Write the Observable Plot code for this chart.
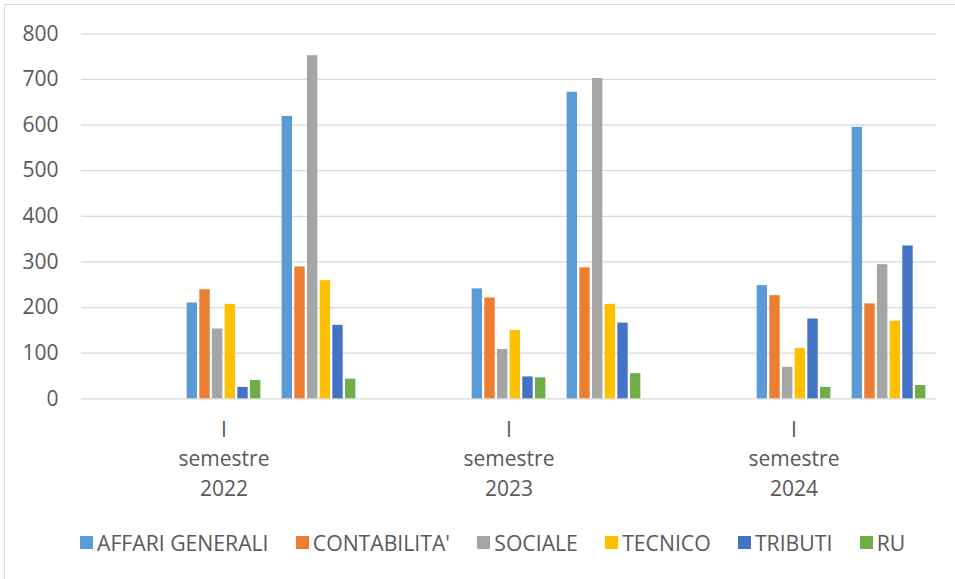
<!DOCTYPE html>
<html>
<head>
<meta charset="utf-8">
<script src="https://cdn.jsdelivr.net/npm/d3@7"></script>
<script src="https://cdn.jsdelivr.net/npm/@observablehq/plot@0.6"></script>
<style>
  html, body { margin: 0; padding: 0; background: #fff; overflow: hidden; }
  #wrap { position: relative; width: 955px; height: 579px; font-family: "Open Sans", sans-serif; }
  #border { position: absolute; left: 4px; top: 3.5px; width: 1100px; height: 800px; border: 1.5px solid #d9d9d9; box-sizing: border-box; }
  #chart { position: absolute; left: 0; top: 0; }
  #legend { position: absolute; left: 80px; top: 529px; height: 26px; display: flex; align-items: center; color: #595959; font-size: 21.2px; white-space: nowrap; }
  .item { display: flex; align-items: center; margin-right: 27.3px; }
  .sw { width: 13px; height: 13px; margin-right: 4px; }
</style>
</head>
<body>
<div id="wrap">
  <div id="border"></div>
  <div id="chart"></div>
  <div id="legend"></div>
</div>
<script>
// Categories (slots) and their axis labels
const categories = ["2022 a", "I semestre 2022", "2022 b", "2023 a", "I semestre 2023", "2023 b", "2024 a", "I semestre 2024", "2024 b"];
const categoryLabels = ["", "I\nsemestre\n2022", "", "", "I\nsemestre\n2023", "", "", "I\nsemestre\n2024", ""];

const series = ["AFFARI GENERALI", "CONTABILITA'", "SOCIALE", "TECNICO", "TRIBUTI", "RU"];
const colors = ["#5B9BD5", "#ED7D31", "#A5A5A5", "#FFC000", "#4472C4", "#70AD47"];

// values per series, one per category slot (null = empty slot)
const affariGenerali = [null, 210, 619, null, 241, 672, null, 248, 595];
const contabilita    = [null, 239, 289, null, 221, 287, null, 226, 208];
const sociale        = [null, 153, 752, null, 108, 702, null, 69, 294];
const tecnico        = [null, 207, 259, null, 150, 207, null, 110, 170];
const tributi        = [null, 25, 161, null, 48, 166, null, 175, 335];
const ru             = [null, 40, 43, null, 46, 55, null, 25, 29];

const yTicks = [0, 100, 200, 300, 400, 500, 600, 700, 800];

const seriesValues = [affariGenerali, contabilita, sociale, tecnico, tributi, ru];
const rows = [];
categories.forEach((c, i) => {
  series.forEach((s, j) => {
    rows.push({cat: c, series: s, value: seriesValues[j][i]});
  });
});

const labelOf = new Map(categories.map((c, i) => [c, categoryLabels[i]]));

const chart = Plot.plot({
  width: 955,
  height: 512,
  marginLeft: 81,
  marginRight: 19,
  marginTop: 33.3,
  marginBottom: 113.7,
  style: {fontFamily: "Open Sans", fontSize: "21px", color: "#595959", background: "transparent"},
  fx: {domain: categories, padding: 0, round: false, label: null},
  x: {domain: series, axis: null, round: false, paddingInner: 0.18, paddingOuter: 0.839},
  y: {domain: [0, 800], axis: null},
  color: {domain: series, range: colors},
  marks: [
    Plot.gridY(yTicks, {stroke: "#d9d9d9", strokeOpacity: 1, strokeWidth: 1.3}),
    Plot.barY(rows, {fx: "cat", x: "series", y: "value", fill: "series"}),
    Plot.axisY(yTicks, {tickSize: 0, tickPadding: 23, fill: "#595959", label: null, tickFormat: d => String(d)}),
    Plot.axisFx({anchor: "bottom", tickSize: 0, tickPadding: 17, lineHeight: 1.405, fill: "#595959", label: null, tickFormat: c => labelOf.get(c)})
  ]
});
document.getElementById("chart").appendChild(chart);

const legend = document.getElementById("legend");
series.forEach((s, i) => {
  const item = document.createElement("div");
  item.className = "item";
  const sw = document.createElement("div");
  sw.className = "sw";
  sw.style.background = colors[i];
  const t = document.createElement("span");
  t.textContent = s;
  item.appendChild(sw);
  item.appendChild(t);
  legend.appendChild(item);
});
</script>
</body>
</html>
